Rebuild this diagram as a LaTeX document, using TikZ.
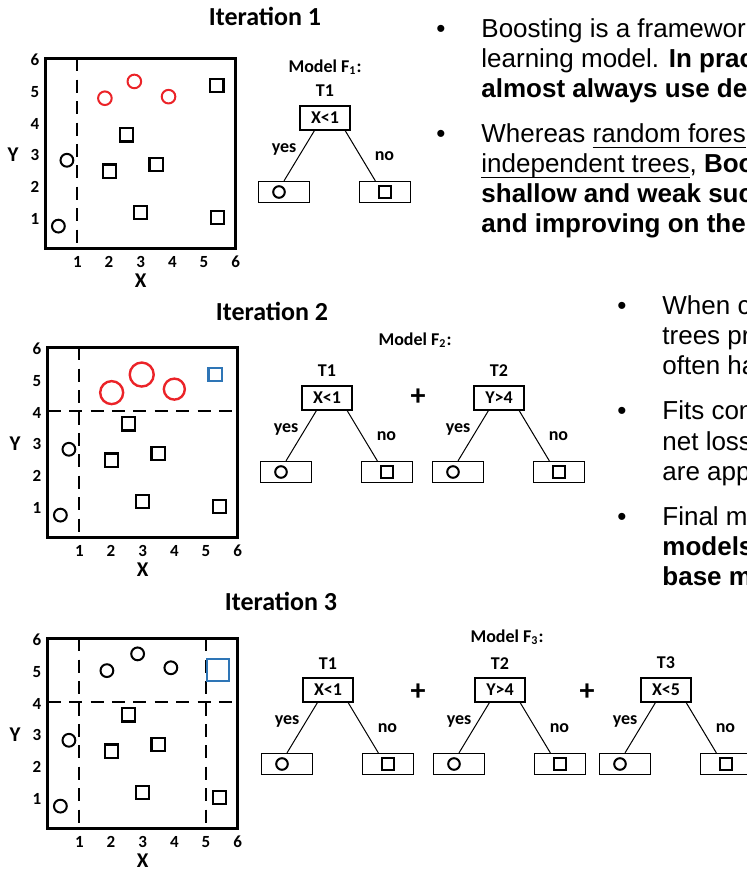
\documentclass[tikz,border=0pt]{standalone}
\usepackage{fontspec}
\setmainfont{Liberation Sans}
\newfontfamily\calibri{Carlito}
\usetikzlibrary{positioning}
\definecolor{PtRed}{RGB}{235,35,40}
\definecolor{PtBlue}{RGB}{46,117,182}
% underline set a fixed distance below the baseline
\newcommand{\ulin}[1]{\setbox0\hbox{#1}\rlap{\rule[-2.7pt]{\wd0}{0.9pt}}\box0}

\tikzset{
  plotframe/.style={line width=1.5pt},
  cutline/.style={line width=1pt, dash pattern=on 6.5pt off 4.2pt},
  circpt/.style={circle, draw, line width=1pt, minimum size=6.4pt, inner sep=0pt},
  sqpt/.style={rectangle, draw, line width=1.1pt, minimum size=6.6pt, inner sep=0pt},
  ticklbl/.style={font=\calibri\bfseries\fontsize{8.5}{9}\selectfont, inner sep=0pt},
  axislbl/.style={font=\calibri\bfseries\fontsize{10.5}{12}\selectfont, inner sep=0pt},
  itertitle/.style={font=\calibri\bfseries\fontsize{13}{14}\selectfont, inner sep=0pt},
  treelbl/.style={font=\calibri\bfseries\fontsize{9}{10}\selectfont, inner sep=1pt},
  splitbox/.style={treelbl, draw, line width=0.6pt, minimum width=25pt, minimum height=12pt},
  leafbox/.style={draw, line width=0.6pt, minimum width=25.5pt, minimum height=10.5pt, inner sep=0pt},
  branch/.style={line width=0.5pt},
  plussign/.style={font=\calibri\bfseries\fontsize{15}{16}\selectfont, inner sep=0pt},
  bullettxt/.style={font=\fontsize{13}{15}\selectfont, anchor=base west, inner sep=0pt},
  bulletdot/.style={font=\fontsize{13}{15}\selectfont, anchor=base, inner sep=0pt}
}

\begin{document}
\begin{tikzpicture}[x=0.5pt, y=-0.5pt]
    \useasboundingbox (0,0) rectangle (747,870);

    % Titles of the three iterations
    \node[itertitle] (it1) at (265,16) {Iteration 1};
    \node[itertitle] (it2) at (272,311) {Iteration 2};
    \node[itertitle] (it3) at (281,601) {Iteration 3};

    % Frames, ticks and the points that stay the same in every plot
    \foreach \k/\ox/\oy in {1/45.7/248.3, 2/47.7/537.3, 3/47.7/828.3}{
        \begin{scope}[shift={(\ox,\oy)}, x=15.83pt, y=15.83pt]
            \draw[plotframe] (0,0) rectangle (6,6);
            \foreach \i in {1,...,6}{
                \node[ticklbl] (xt\k\i) at (\i,-0.43) {\i};
                \node[ticklbl] (yt\k\i) at (-0.34,\i-0.06) {\i};
            }
            \node[axislbl] (xl\k) at (3,-1.02) {X};
            \node[axislbl] (yl\k) at (-1.03,2.97) {Y};
            \foreach \px/\py [count=\c] in {0.4/0.7, 0.67/2.78}
                \node[circpt] (c\k\c) at (\px,\py) {};
            \foreach \px/\py [count=\c] in {2.55/3.58, 2.02/2.44, 3.49/2.65, 3.0/1.13, 5.42/0.97}
                \node[sqpt] (s\k\c) at (\px,\py) {};
        \end{scope}
    }

    % Plot 1: first split, misclassified circles in red
    \begin{scope}[shift={(45.7,248.3)}, x=15.83pt, y=15.83pt]
        \draw[cutline] (1,6) -- (1,0);
        \foreach \px/\py [count=\c] in {1.87/4.74, 2.8/5.27, 3.88/4.79}
            \node[circpt, draw=PtRed, minimum size=6.8pt] (r1\c) at (\px,\py) {};
        \node[sqpt] (s16) at (5.41,5.14) {};
    \end{scope}

    % Plot 2: red circles weighted up
    \begin{scope}[shift={(47.7,537.3)}, x=15.83pt, y=15.83pt]
        \draw[cutline] (1,6) -- (1,0);
        \draw[cutline] (0,4) -- (6,4);
        \foreach \px/\py/\d [count=\c] in {2.02/4.57/11.5pt, 2.97/5.14/12pt, 4.0/4.68/10.5pt}
            \node[circpt, draw=PtRed, line width=1.2pt, minimum size=\d] (r2\c) at (\px,\py) {};
        \node[sqpt, draw=PtBlue] (s26) at (5.29,5.14) {};
    \end{scope}

    % Plot 3: blue square weighted up
    \begin{scope}[shift={(47.7,828.3)}, x=15.83pt, y=15.83pt]
        \draw[cutline] (1,6) -- (1,0);
        \draw[cutline] (5,6) -- (5,0);
        \draw[cutline] (0,4) -- (6,4);
        \foreach \px/\py [count=\c] in {1.87/4.98, 2.84/5.51, 3.89/5.07}
            \node[circpt] (r3\c) at (\px,\py) {};
        \node[sqpt, draw=PtBlue, minimum size=11pt] (s36) at (5.37,4.99) {};
    \end{scope}

    % Model labels
    \node[treelbl] (mf1) at (325,67) {Model F\textsubscript{1}:};
    \node[treelbl] (mf2) at (415,340) {Model F\textsubscript{2}:};
    \node[treelbl] (mf3) at (507,637) {Model F\textsubscript{3}:};

    % Draw the stumps: iteration / tree / x / y / rule
    \foreach \it/\n/\bx/\by/\rl in {1/1/325/118/X<1, 2/1/327/398/X<1, 2/2/499/398/Y>4,
                                    3/1/328/690/X<1, 3/2/500/690/Y>4, 3/3/666/690/X<5}{
        \node[splitbox] (b\it\n) at (\bx,\by) {\rl};
        \node[treelbl, above=3pt of b\it\n] (t\it\n) {T\n};
        \node[leafbox] (ly\it\n) at (\bx-41,\by+74) {};
        \node[leafbox] (ln\it\n) at (\bx+60,\by+74) {};
        \node[circpt, minimum size=5.8pt] (cy\it\n) at ([xshift=-2.5pt]ly\it\n.center) {};
        \node[sqpt, minimum size=6pt] (sn\it\n) at (ln\it\n.center) {};
        \draw[branch] (b\it\n.230) -- node[treelbl, pos=0.38, left=2pt] (yes\it\n) {yes} (ly\it\n.north);
        \draw[branch] (b\it\n.328) -- node[treelbl, pos=0.5, right=6pt] (no\it\n) {no} (ln\it\n.131);
    }

    % plus signs between the trees
    \node[plussign] (pl21) at (418,397) {+};
    \node[plussign] (pl31) at (418,692) {+};
    \node[plussign] (pl32) at (587,692) {+};

    % Text on the right, top block
    \foreach \y in {38,143}
        \node[bulletdot] (bt\y) at (441,\y) {•};
    \foreach \t [count=\i] in {Boosting is a framewor, learning model. \textbf{In prac}, \textbf{almost always use de}}
        \node[bullettxt] (pa\i) at (481,{8+30*\i}) {\t};
    \foreach \t [count=\i] in {Whereas \ulin{random fores}, {\ulin{independent trees}, \textbf{Boo}},
                               \textbf{shallow and weak suc}, \textbf{and improving on the}}
        \node[bullettxt] (pb\i) at (481,{113+30*\i}) {\t};

    % Text on the right, middle block
    \foreach \y in {315,420,525}
        \node[bulletdot] (bm\y) at (622,\y) {•};
    \foreach \t [count=\i] in {When c, trees pr, often ha}
        \node[bullettxt] (pc\i) at (662,{285+30*\i}) {\t};
    \foreach \t [count=\i] in {Fits con, net loss, are app}
        \node[bullettxt] (pd\i) at (662,{390+30*\i}) {\t};
    \foreach \t [count=\i] in {Final m, \textbf{models}, \textbf{base m}}
        \node[bullettxt] (pe\i) at (662,{495+30*\i}) {\t};
\end{tikzpicture}
\end{document}
